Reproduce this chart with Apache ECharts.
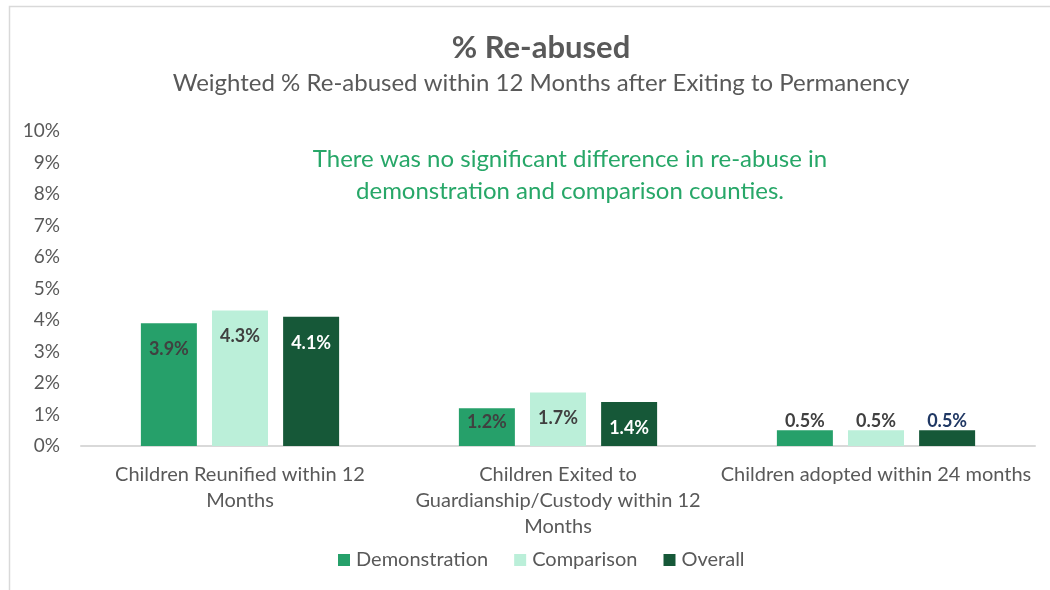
<!DOCTYPE html>
<html>
<head>
<meta charset="utf-8">
<script src="https://cdn.jsdelivr.net/npm/echarts@6/dist/echarts.min.js"></script>
<style>
  html, body { margin: 0; padding: 0; background: #fff; }
  #chart { width: 1050px; height: 590px; }
</style>
</head>
<body>
<div id="chart"></div>
<script>
// Weighted % re-abused within 12 months after exiting to permanency
const categories = [
  'Children Reunified within 12\nMonths',
  'Children Exited to\nGuardianship/Custody within 12\nMonths',
  'Children adopted within 24 months'
];
const seriesNames = ['Demonstration', 'Comparison', 'Overall'];
const demonstration = [3.9, 1.2, 0.5];
const comparison = [4.3, 1.7, 0.5];
const overall = [4.1, 1.4, 0.5];
const yTicks = [0, 1, 2, 3, 4, 5, 6, 7, 8, 9, 10];

const FONT = 'Lato, "Open Sans", sans-serif';
const GRAY = '#595959';
const colors = ['#26A06A', '#BBEFD9', '#165838'];
const labelColors = ['#404040', '#404040', '#FFFFFF'];

// Large bars carry their value inside the top end; the small adoption bars carry it above.
function buildData(values, s) {
  return values.map((v, i) => {
    const small = v < 1;
    return {
      value: v,
      label: small
        ? { position: 'top', distance: 0, color: s === 2 ? '#203864' : '#404040' }
        : { position: 'insideTop', distance: v < 1.5 && s === 0 ? 5 : 17, color: labelColors[s] }
    };
  });
}

const valueSets = [demonstration, comparison, overall];
const chart = echarts.init(document.getElementById('chart'));
chart.setOption({
  animation: false,
  textStyle: { fontFamily: FONT },
  graphic: [{
    type: 'rect',
    shape: { x: 9.5, y: 6.5, width: 1200, height: 700 },
    style: { fill: 'none', stroke: '#D9D9D9', lineWidth: 1.5 },
    silent: true
  }],
  title: [
    {
      text: '% Re-abused',
      left: 536, top: 27, textAlign: 'center',
      textStyle: { fontFamily: FONT, fontSize: 31, fontWeight: 'bold', color: GRAY }
    },
    {
      text: 'Weighted % Re-abused within 12 Months after Exiting to Permanency',
      left: 536, top: 66, textAlign: 'center',
      textStyle: { fontFamily: FONT, fontSize: 24, fontWeight: 'normal', color: GRAY }
    },
    {
      text: 'There was no significant difference in re-abuse in\ndemonstration and comparison counties.',
      left: 565, top: 138, textAlign: 'center',
      textStyle: { fontFamily: FONT, fontSize: 24, fontWeight: 'normal', color: '#27A768', lineHeight: 32 }
    }
  ],
  legend: {
    data: seriesNames,
    bottom: 15, left: 333,
    itemWidth: 12, itemHeight: 12, itemGap: 26,
    icon: 'rect',
    textStyle: { fontFamily: FONT, fontSize: 20, color: GRAY, padding: [0, 0, 0, 1] }
  },
  grid: { left: 81, right: 15, top: 131, bottom: 144, containLabel: false },
  xAxis: {
    type: 'category',
    data: categories,
    axisLine: { lineStyle: { color: '#D9D9D9', width: 2 } },
    axisTick: { show: false },
    axisLabel: { fontFamily: FONT, fontSize: 20, color: GRAY, lineHeight: 26, margin: 16, interval: 0 }
  },
  yAxis: {
    type: 'value',
    min: yTicks[0], max: yTicks[yTicks.length - 1], interval: 1,
    splitLine: { show: false },
    axisLine: { show: false },
    axisTick: { show: false },
    axisLabel: { fontFamily: FONT, fontSize: 19, color: GRAY, margin: 21, formatter: v => v + '%' }
  },
  series: valueSets.map((vals, s) => ({
    name: seriesNames[s],
    type: 'bar',
    barWidth: 56,
    barGap: '27%',
    itemStyle: { color: colors[s] },
    label: {
      show: true,
      fontFamily: FONT, fontSize: 18, fontWeight: 'bold',
      formatter: p => p.value.toFixed(1) + '%'
    },
    data: buildData(vals, s)
  }))
});
</script>
</body>
</html>
